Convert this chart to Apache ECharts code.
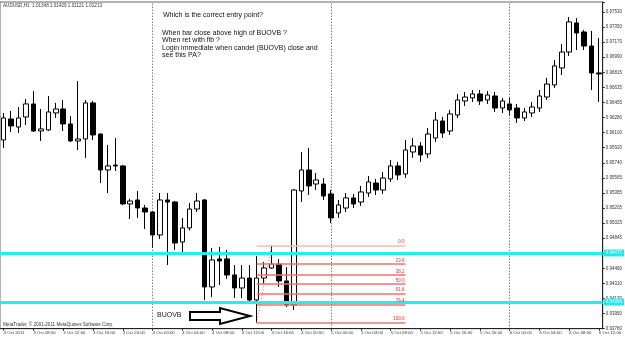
<!DOCTYPE html>
<html><head><meta charset="utf-8">
<script src="https://cdn.jsdelivr.net/npm/echarts@6/dist/echarts.min.js"></script>
<style>html,body{margin:0;padding:0;background:#fff}#c{width:625px;height:338px}</style>
</head><body><div id="c"></div>
<script>
// Tick labels
const xTickLabels = ['3 Oct 2011','3 Oct 08:00','3 Oct 12:00','3 Oct 16:00','3 Oct 20:00','4 Oct 00:00','4 Oct 04:00','4 Oct 08:00','4 Oct 12:00','4 Oct 16:00','4 Oct 20:00','5 Oct 00:00','5 Oct 04:00','5 Oct 08:00','5 Oct 12:00','5 Oct 16:00','5 Oct 20:00','6 Oct 00:00','6 Oct 04:00','6 Oct 08:00','6 Oct 12:00'];
const yTickLabels = ['0.93780','0.93950','0.94130','0.94310','0.94490','0.94670','0.94845','0.95025','0.95205','0.95385','0.95565','0.95740','0.95920','0.96100','0.96280','0.96455','0.96635','0.96815','0.96990','0.97170','0.97350','0.97530'];

// H1 candles, 3 Oct 04:00 .. 6 Oct 12:00
const openP = [0.96014,0.96263,0.96168,0.96287,0.96441,0.96121,0.96133,0.96334,0.96381,0.96204,0.96003,0.96026,0.96453,0.96085,0.95659,0.95718,0.95707,0.95257,0.95304,0.95209,0.95162,0.94890,0.95304,0.95280,0.94807,0.94973,0.95197,0.95304,0.94274,0.94606,0.94606,0.94416,0.94262,0.94380,0.94120,0.94380,0.94499,0.94546,0.94345,0.94061,0.95411,0.95659,0.95493,0.95493,0.95375,0.95150,0.95209,0.95328,0.95280,0.95387,0.95505,0.95422,0.95553,0.95707,0.95612,0.95872,0.95943,0.95849,0.96038,0.96239,0.96121,0.96310,0.96476,0.96512,0.96559,0.96488,0.96535,0.96393,0.96441,0.96393,0.96275,0.96334,0.96393,0.96523,0.96666,0.96867,0.97056,0.97400,0.97293,0.97127,0.96808];
const closeP = [0.96275,0.96180,0.96275,0.96441,0.96121,0.96145,0.96346,0.96381,0.96204,0.96003,0.96026,0.96453,0.96074,0.95659,0.95707,0.95707,0.95257,0.95292,0.95209,0.95162,0.94890,0.95304,0.95280,0.94795,0.94973,0.95197,0.95292,0.94274,0.94594,0.94582,0.94416,0.94262,0.94380,0.94120,0.94380,0.94499,0.94546,0.94345,0.94061,0.95422,0.95659,0.95470,0.95541,0.95351,0.95091,0.95245,0.95328,0.95257,0.95399,0.95517,0.95422,0.95564,0.95707,0.95600,0.95896,0.95943,0.95837,0.96085,0.96251,0.96097,0.96323,0.96488,0.96523,0.96559,0.96476,0.96547,0.96393,0.96476,0.96370,0.96275,0.96346,0.96405,0.96535,0.96677,0.96891,0.97056,0.97412,0.97281,0.97127,0.96808,0.96796];
const lowP = [0.95920,0.96109,0.96097,0.96192,0.96109,0.96003,0.96121,0.96275,0.96121,0.95991,0.95896,0.95802,0.96014,0.95505,0.95387,0.95647,0.95245,0.95079,0.95091,0.94961,0.94736,0.94842,0.94534,0.94712,0.94688,0.94943,0.95162,0.94120,0.94156,0.94298,0.94369,0.94144,0.94144,0.94096,0.93851,0.94310,0.94490,0.94274,0.94037,0.94002,0.95280,0.95363,0.95422,0.95304,0.95032,0.95091,0.95162,0.95209,0.95233,0.95339,0.95363,0.95375,0.95517,0.95541,0.95564,0.95802,0.95754,0.95802,0.95991,0.96038,0.96074,0.96275,0.96417,0.96464,0.96429,0.96441,0.96346,0.96334,0.96299,0.96216,0.96239,0.96287,0.96346,0.96488,0.96630,0.96784,0.97009,0.97080,0.97080,0.96606,0.96464];
const highP = [0.96334,0.96358,0.96405,0.96500,0.96595,0.96381,0.96535,0.96453,0.96488,0.96299,0.96713,0.96488,0.96476,0.96090,0.95955,0.96038,0.95718,0.95316,0.95411,0.95245,0.95174,0.95387,0.95387,0.95292,0.95091,0.95268,0.95387,0.95316,0.94736,0.94748,0.94712,0.94534,0.94534,0.94534,0.94641,0.94570,0.94763,0.94606,0.94511,0.95434,0.95872,0.95920,0.95624,0.95564,0.95422,0.95304,0.95387,0.95375,0.95470,0.95588,0.95553,0.95636,0.95778,0.95754,0.96014,0.96038,0.95991,0.96157,0.96346,0.96287,0.96370,0.96559,0.96583,0.96606,0.96606,0.96595,0.96583,0.96512,0.96512,0.96441,0.96393,0.96464,0.96606,0.96749,0.96962,0.97151,0.97471,0.97459,0.97317,0.97305,0.97222];

// Drawn objects
const supportLevels = [0.94677, 0.94096];
const fibHigh = 0.94763, fibLow = 0.93851;
const fibRatios = [0, 23.6, 38.2, 50, 61.8, 76.4, 100];
const fibStartBar = 34, fibEndBar = 54, fibHighBar = 36;
const daySeparatorBars = [20, 44, 68];

const categories = openP.map((_, i) => { const h = 4 + i; return (3 + Math.floor(h / 24)) + ' Oct ' + String(h % 24).padStart(2, '0') + ':00'; });
const candles = openP.map((o, i) => [o, closeP[i], lowP[i], highP[i]]);

const yMin = 0.9378, yMax = 0.97648;
const yInterval = (0.9753 - 0.9378) / 21;
const FONT = 'Liberation Sans, Arial, sans-serif';

const markLines = [];
daySeparatorBars.forEach(b => markLines.push({ xAxis: b, lineStyle: { color: '#444', type: [1, 2], width: 1 }, label: { show: false } }));
fibRatios.forEach((r, k) => {
  const v = fibHigh - r / 100 * (fibHigh - fibLow);
  markLines.push([
    { coord: [fibStartBar, v], lineStyle: { color: k === 0 ? '#f7b8b8' : '#f07272', width: 1.5, type: 'solid' },
      label: { show: true, position: 'insideEndTop', formatter: r.toFixed(1), color: '#e03030', fontSize: 4.5, fontFamily: FONT, distance: 1 } },
    { coord: [fibEndBar, v] }
  ]);
});
markLines.push([
  { coord: [fibStartBar, fibLow], lineStyle: { color: '#f06060', width: 1, type: [1, 2] }, label: { show: false } },
  { coord: [fibHighBar, fibHigh] }
]);
supportLevels.forEach(v => markLines.push({
  yAxis: v, lineStyle: { color: '#22f0f0', width: 3, type: 'solid' },
  label: { show: true, position: 'end', distance: 1, formatter: v.toFixed(5), color: '#e8ffff', backgroundColor: '#22e8ec', fontSize: 4.5, fontFamily: FONT, padding: [1, 2] }
}));

const chart = echarts.init(document.getElementById('c'), null, { renderer: 'canvas' });
chart.setOption({
  animation: false,
  backgroundColor: '#fff',
  grid: { left: -1, right: 17, top: 2, bottom: 9.3, show: true, borderColor: '#666', borderWidth: 1, backgroundColor: '#fff' },
  xAxis: {
    type: 'category', data: categories, boundaryGap: true,
    axisLine: { show: true, lineStyle: { color: '#222', width: 1 } },
    axisTick: { show: true, alignWithLabel: true, interval: 3, length: 2, lineStyle: { color: '#222' } },
    axisLabel: { interval: 3, align: 'left', margin: 2, fontSize: 4.3, color: '#333', fontFamily: FONT,
      formatter: (v, i) => xTickLabels[i / 4] || '' },
    splitLine: { show: false }
  },
  yAxis: {
    type: 'value', position: 'right', min: yMin, max: yMax, interval: yInterval, scale: true,
    axisLine: { show: true, lineStyle: { color: '#222', width: 1 } },
    axisTick: { show: true, length: 2, lineStyle: { color: '#222' } },
    axisLabel: { margin: 3, fontSize: 4.5, color: '#333', fontFamily: FONT,
      formatter: v => { const k = (v - yMin) / yInterval; const r = Math.round(k); return Math.abs(k - r) < 0.02 ? (yTickLabels[r] || '') : ''; } },
    splitLine: { show: false }
  },
  series: [{
    type: 'candlestick', data: candles, barWidth: 5,
    itemStyle: { color: '#ffffff', color0: '#000000', borderColor: '#000000', borderColor0: '#000000', borderWidth: 1 },
    markLine: { silent: true, precision: 5, symbol: ['none', 'none'], animation: false, data: markLines }
  }],
  graphic: [
    { type: 'text', left: 3, top: 3, style: { text: 'AUDUSD,H1  1.01348 1.01429 1.01121 1.01213', font: '4.6px ' + FONT, fill: '#333' } },
    { type: 'text', left: 163, top: 12, style: { text: 'Which is the correct entry point?', font: '7px ' + FONT, fill: '#111' } },
    { type: 'text', left: 162, top: 29, style: { text: 'When bar close above high of BUOVB ?\nWhen ret with fib ?\nLogin immediate when candel (BUOVB) close and\nsee this PA?', font: '7px ' + FONT, fill: '#111', lineHeight: 7.5 } },
    { type: 'text', left: 157, top: 312, style: { text: 'BUOVB', font: '7px ' + FONT, fill: '#222' } },
    { type: 'polygon', shape: { points: [[190, 312], [220, 312], [220, 308], [250, 316], [220, 324], [220, 320], [190, 320]] }, style: { fill: '#fff', stroke: '#000', lineWidth: 2 } },
    { type: 'text', left: 3, top: 322, style: { text: 'MetaTrader, \u00a9 2001-2011 MetaQuotes Software Corp.', font: '4.6px ' + FONT, fill: '#333' } }
  ]
});
</script>
</body></html>
